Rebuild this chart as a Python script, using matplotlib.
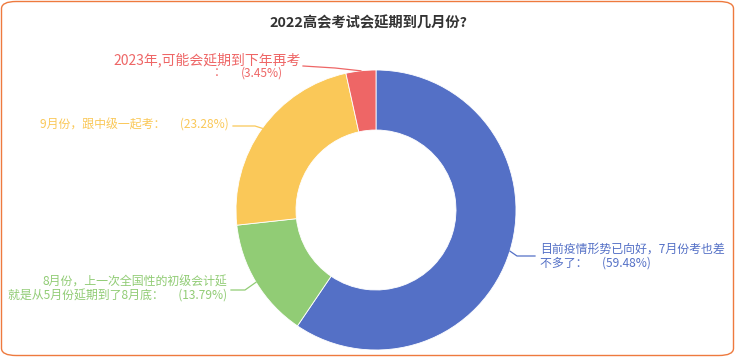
import numpy as np
import matplotlib
matplotlib.use("Agg")
import matplotlib.pyplot as plt
from matplotlib.patches import FancyBboxPatch

plt.rcParams['font.family'] = ['Noto Sans CJK SC', 'DejaVu Sans']

# data
title = "2022高会考试会延期到几月份?"
labels = ["目前疫情形势已向好，7月份考也差\n不多了：\u3000 (59.48%)",
          "8月份，上一次全国性的初级会计延\n就是从5月份延期到了8月底：\u3000 (13.79%)",
          "9月份，跟中级一起考：\u3000 (23.28%)",
          "2023年,可能会延期到下年再考\n：\n(3.45%)"]
values = [59.48, 13.79, 23.28, 3.45]
colors = ["#5470c6", "#91cc75", "#fac858", "#ee6666"]

W, H = 735, 357
cx, cy, R = 376, 210, 140  # pie centre / radius in pixels


def px(x, y):
    # pixel (from top-left) -> data units
    return (x - cx) / R, (cy - y) / R


fig = plt.figure(figsize=(W / 100, H / 100), dpi=100)
ax = fig.add_axes([0, 0, 1, 1])

wedges, _ = ax.pie(values, colors=colors, startangle=90, counterclock=False,
                   radius=1, wedgeprops=dict(width=60 / R, edgecolor='white', linewidth=0.6))
ax.set_xlim(-cx / R, (W - cx) / R)
ax.set_ylim((cy - H) / R, cy / R)
ax.set_aspect('auto')
ax.axis('off')

# label layout: (elbow px, end px, text px, ha)
layout = [
    ((517, 256), (535, 256), (540, 256), 'left'),
    ((245, 290), (231, 290), (227, 289), 'right'),
    ((255, 126), (233, 126), (229, 125), 'right'),
    ((335, 68), (303, 66), (301, 60), 'right'),
]

for w, lab, col, (elb, end, tp, ha) in zip(wedges, labels, colors, layout):
    mid = np.deg2rad((w.theta1 + w.theta2) / 2)
    sx, sy = np.cos(mid), np.sin(mid)
    ex, ey = px(*elb)
    fx, fy = px(*end)
    ax.plot([sx, ex, fx], [sy, ey, fy], color=col, lw=0.9)
    tx, ty = px(*tp)
    if lab.startswith("2023"):
        l1, colon, pct = lab.split("\n")
        ax.text(tx, ty, l1, color=col, fontsize=10, ha='right', va='center')
        ax.text(*px(220, 73), colon, color=col, fontsize=8.6, ha='center', va='center')
        ax.text(*px(283, 73), pct, color=col, fontsize=8.6, ha='right', va='center')
    else:
        ax.text(tx, ty, lab, color=col, fontsize=8.6, ha=ha, va='center',
                multialignment=ha, linespacing=1.05)

fig.text(368 / W, 1 - 23 / H, title, ha='center', va='center',
         fontsize=10.3, fontweight='bold', color='#333333')

border = FancyBboxPatch((1.5 / W, 1.5 / H), (W - 3) / W, (H - 3) / H,
                        boxstyle="round,pad=0,rounding_size=0.02",
                        transform=fig.transFigure, fill=False,
                        edgecolor='#ee7a3e', linewidth=1.0)
fig.patches.append(border)

fig.savefig("out.png", dpi=100)
